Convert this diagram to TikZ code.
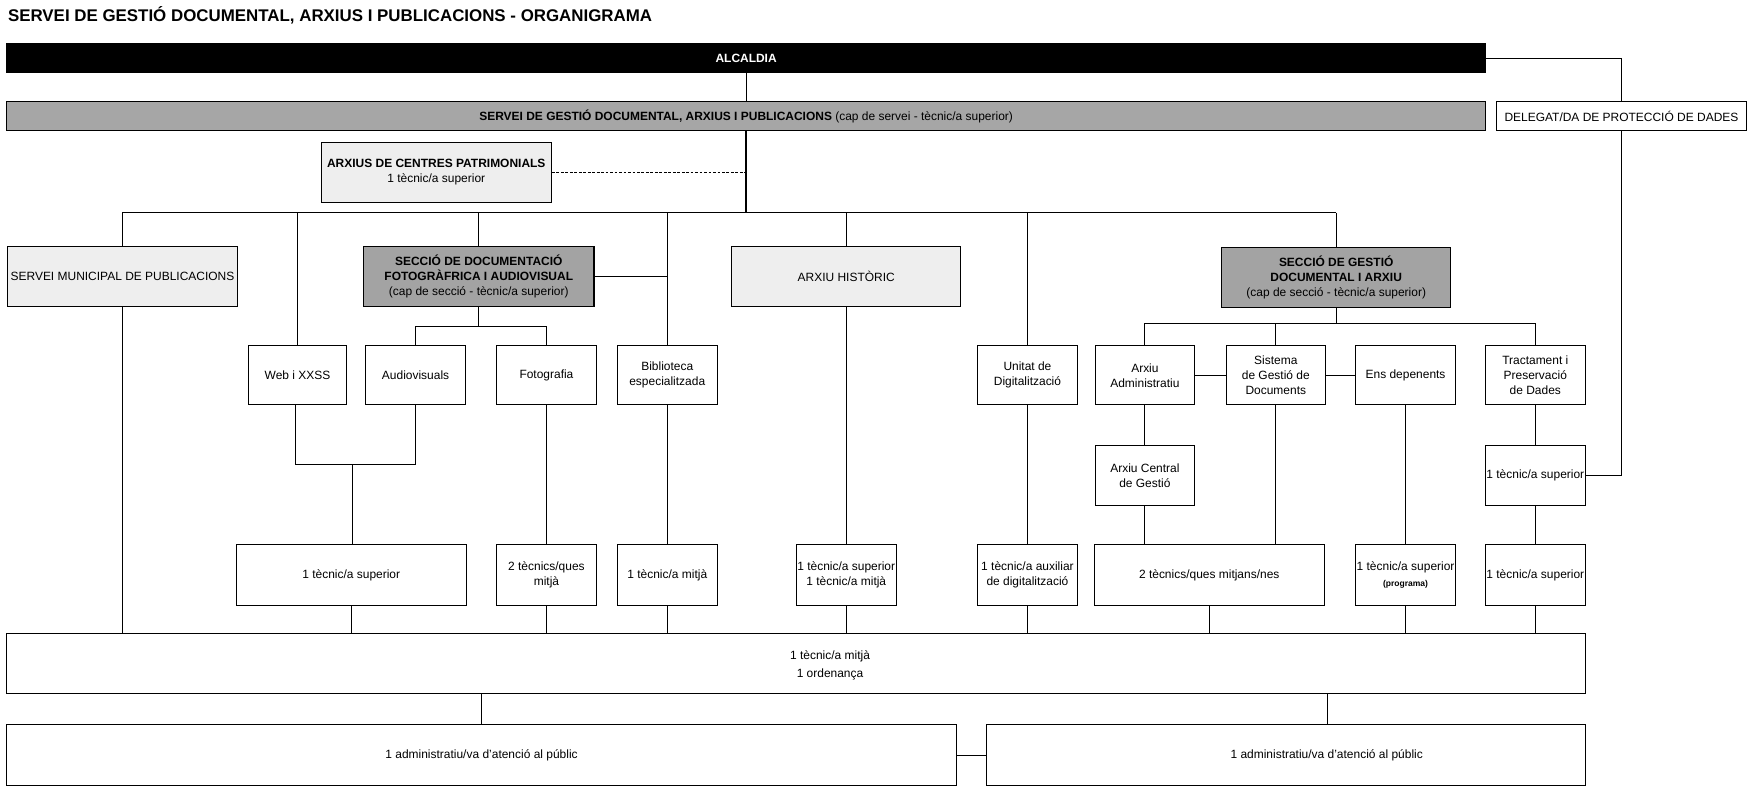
\documentclass[tikz,border=0pt]{standalone}
\usepackage{fontspec}
\setmainfont{Liberation Sans}
\definecolor{bargray}{HTML}{A6A6A6}
\definecolor{secgray}{HTML}{A3A3A3}
\definecolor{lightgray}{HTML}{EEEEEE}
\begin{document}
\begin{tikzpicture}[x=1pt,y=-1pt,
  box/.style={draw=black,line width=0.9pt,inner sep=0pt,align=center,
    font=\fontsize{10.7}{13.5}\selectfont},
  lbl/.style={inner sep=0pt,align=center,font=\fontsize{10.7}{13.5}\selectfont},
  lt/.style={box,fill=lightgray},
  dk/.style={box,fill=secgray},
  conn/.style={line width=0.8pt},
  small/.style={minimum width=89pt,minimum height=53pt},
  wide/.style={minimum width=206pt,minimum height=54pt}]
\useasboundingbox (0,0) rectangle (1568,709.8);
\fill[white] (0,0) rectangle (1568,709.8);
% title
\node[anchor=west,inner sep=0pt,font=\fontsize{15.1}{18}\selectfont\bfseries] (title) at (7,14) {SERVEI DE GESTIÓ DOCUMENTAL, ARXIUS I PUBLICACIONS - ORGANIGRAMA};
% top bars
\node[box,fill=black,text=white,font=\fontsize{10.7}{13.5}\selectfont\bfseries,minimum width=1322pt,minimum height=26pt] (alc) at (667,52) {ALCALDIA};
\node[box,fill=bargray,minimum width=1322pt,minimum height=26pt] (serv) at (667,104) {\textbf{SERVEI DE GESTIÓ DOCUMENTAL, ARXIUS I PUBLICACIONS} (cap de servei - tècnic/a superior)};
\node[box,fill=white,minimum width=223pt,minimum height=26pt] (deleg) at (1449.5,104) {DELEGAT/DA DE PROTECCIÓ DE DADES};
\node[lt,wide] (arxcp) at (390,154) {\textbf{ARXIUS DE CENTRES PATRIMONIALS}\\1 tècnic/a superior};
% level 1
\node[lt,minimum width=205pt,minimum height=54pt] (smp) at (109.5,247) {SERVEI MUNICIPAL DE PUBLICACIONS};
\node[dk,wide] (sdf) at (428,247) {\textbf{SECCIÓ DE DOCUMENTACIÓ}\\\textbf{FOTOGRÀFRICA I AUDIOVISUAL}\\(cap de secció - tècnic/a superior)};
\node[lt,minimum width=205pt,minimum height=54pt] (ah) at (756.5,247) {ARXIU HISTÒRIC};
\node[dk,minimum width=205pt,minimum height=54pt] (sgd) at (1194.5,248) {\textbf{SECCIÓ DE GESTIÓ}\\\textbf{DOCUMENTAL I ARXIU}\\(cap de secció - tècnic/a superior)};
% level 2
\node[box,minimum width=88pt,minimum height=53pt] (web) at (266,335.5) {Web i XXSS};
\node[box,small] (audio) at (371.5,335.5) {Audiovisuals};
\node[box,small] (foto) at (488.5,335.5) {Fotografia};
\node[box,small] (bib) at (596.5,335.5) {Biblioteca\\especialitzada};
\node[box,small] (udig) at (918.5,335.5) {Unitat de\\Digitalització};
\node[box,small] (aadm) at (1023.5,335.5) {Arxiu\\Administratiu};
\node[box,small] (sist) at (1140.5,335.5) {Sistema\\de Gestió de\\Documents};
\node[box,small] (ens) at (1256.5,335.5) {Ens depenents};
\node[box,small] (trac) at (1372.5,335.5) {Tractament i\\Preservació\\de Dades};
\node[box,small,minimum height=54pt] (acg) at (1023.5,425) {Arxiu Central\\de Gestió};
\node[box,small,minimum height=54pt] (trs) at (1372.5,425) {1 tècnic/a superior};
% level 3
\node[box,wide] (t1) at (314,514) {1 tècnic/a superior};
\node[box,small,minimum height=54pt] (t2) at (488.5,514) {2 tècnics/ques\\mitjà};
\node[box,small,minimum height=54pt] (t3) at (596.5,514) {1 tècnic/a mitjà};
\node[box,small,minimum height=54pt] (t4) at (756.5,514) {1 tècnic/a superior\\1 tècnic/a mitjà};
\node[box,small,minimum height=54pt] (t5) at (918.5,514) {1 tècnic/a auxiliar\\de digitalització};
\node[box,wide] (t6) at (1081,514) {2 tècnics/ques mitjans/nes};
\node[box,small,minimum height=54pt] (t7) at (1256.5,514) {1 tècnic/a superior\\{\fontsize{7.6}{9}\selectfont\bfseries (programa)}};
\node[box,small,minimum height=54pt] (t8) at (1372.5,514) {1 tècnic/a superior};
% bottom
\node[box,minimum width=1411pt,minimum height=54pt] (big) at (711.5,593) {};
\node[lbl] (bigtxt) at (742,595) {1 tècnic/a mitjà\\[3pt]1 ordenança};
\node[box,minimum width=849pt,minimum height=54pt] (adL) at (430.5,675) {1 administratiu/va d'atenció al públic};
\node[box,minimum width=535pt,minimum height=54pt] (adR) at (1149.5,675) {};
\node[lbl] (adRtxt) at (1186,675) {1 administratiu/va d'atenció al públic};
% coordinates
\coordinate (busL) at (109.5,190);
\coordinate (busR) at (1194.5,190);
\coordinate (busC) at (667,190);
\coordinate (dashE) at (667,154);
\coordinate (delR) at (1449.5,52);
\coordinate (webB) at (264,415);
\coordinate (audB) at (371.5,415);
\coordinate (webM) at (315,415);
\coordinate (sdfB) at (428,292);
\coordinate (sgdB) at (1194.5,289);
\coordinate (bigL) at (430.5,620);
\coordinate (bigR) at (1187,620);
% connectors
\draw[conn] (alc.south) -- (serv.north);
\draw[conn] (alc.east) -- (delR) -- (deleg.north);
\draw[conn] (deleg.south) -- (deleg.south |- trs.east) -- (trs.east);
\draw[line width=1.6pt] (serv.south) -- (busC);
\draw[conn] (busL) -- (busR);
\draw[conn,dash pattern=on 2.5pt off 1.5pt,line width=0.6pt] (arxcp.east) -- (dashE);
\draw[conn] (busL) -- (smp.north);
\draw[conn] (web.north |- busL) -- (web.north);
\draw[conn] (sdf.north |- busL) -- (sdf.north);
\draw[conn] (bib.north |- busL) -- (bib.north);
\draw[conn] (ah.north |- busL) -- (ah.north);
\draw[conn] (udig.north |- busL) -- (udig.north);
\draw[conn] (busR) -- (sgd.north);
\draw[conn] (sdf.east) -- (sdf.east -| bib.north);
\draw[conn] (sdf.south) -- (sdfB);
\draw[conn] (audio.north) -- (audio.north |- sdfB) -- (foto.north |- sdfB) -- (foto.north);
\draw[conn] (webB |- web.south) -- (webB) -- (audB) -- (audio.south);
\draw[conn] (webM) -- (webM |- t1.north);
\draw[conn] (foto.south) -- (t2.north);
\draw[conn] (bib.south) -- (t3.north);
\draw[conn] (ah.south) -- (t4.north);
\draw[conn] (udig.south) -- (t5.north);
\draw[conn] (sgd.south) -- (sgdB);
\draw[conn] (aadm.north) -- (aadm.north |- sgdB) -- (trac.north |- sgdB) -- (trac.north);
\draw[conn] (sist.north |- sgdB) -- (sist.north);
\draw[conn] (aadm.east) -- (sist.west);
\draw[conn] (sist.east) -- (ens.west);
\draw[conn] (aadm.south) -- (acg.north);
\draw[conn] (acg.south) -- (acg.south |- t6.north);
\draw[conn] (sist.south) -- (sist.south |- t6.north);
\draw[conn] (ens.south) -- (t7.north);
\draw[conn] (trac.south) -- (trs.north);
\draw[conn] (trs.south) -- (t8.north);
\draw[conn] (smp.south) -- (smp.south |- big.north);
\foreach \n in {t1,t2,t3,t4,t5,t6,t7,t8} {\draw[conn] (\n.south) -- (\n.south |- big.north);}
\draw[conn] (bigL) -- (adL.north);
\draw[conn] (bigR) -- (bigR |- adR.north);
\draw[conn] (adL.east) -- (adR.west);
\end{tikzpicture}
\end{document}
